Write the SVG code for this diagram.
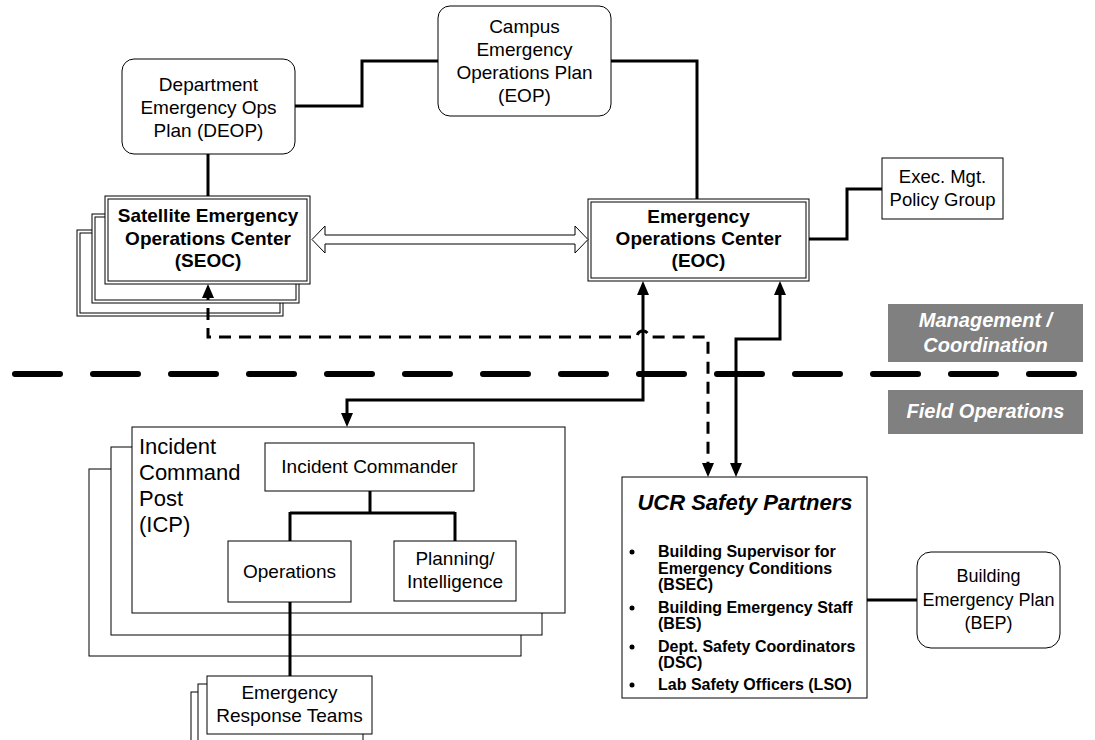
<svg xmlns="http://www.w3.org/2000/svg" width="1095" height="740" viewBox="0 0 1095 740">
<defs>
<marker id="ah" viewBox="0 0 14 12" markerWidth="14" markerHeight="12" refX="10" refY="6" orient="auto-start-reverse" markerUnits="userSpaceOnUse"><path d="M0,0 L14,6 L0,12 z" fill="#000"/></marker>
</defs>
<style>
.box{fill:#fff;stroke:#000;stroke-width:1}
.t{font-family:"Liberation Sans",Arial,sans-serif;font-size:19px;fill:#000;text-anchor:middle}
.b{font-weight:bold}
.conn{fill:none;stroke:#000;stroke-width:3}
.dash{stroke-dasharray:12 8}
.lbl{fill:#808080}
.lt{font-family:"Liberation Sans",Arial,sans-serif;font-size:20px;font-weight:bold;font-style:italic;fill:#fff;text-anchor:middle}
.ul{font-family:"Liberation Sans",Arial,sans-serif;font-size:16px;font-weight:bold;fill:#000}
</style>
<rect width="1095" height="740" fill="#fff"/>

<line id="divider" x1="15" y1="374" x2="1074" y2="374" stroke="#000" stroke-width="6" stroke-dasharray="45 33" stroke-linecap="round"/>

<g id="label-mgmt"><rect class="lbl" x="888" y="304" width="195" height="58"/><text class="lt" x="985.5" y="327">Management /</text><text class="lt" x="985.5" y="352">Coordination</text></g>
<g id="label-field"><rect class="lbl" x="888" y="390" width="195" height="44"/><text class="lt" x="985.5" y="418">Field Operations</text></g>

<g id="deop"><rect class="box" x="122" y="59" width="173" height="95" rx="12"/><text class="t" x="208.5" y="91">Department</text><text class="t" x="208.5" y="114">Emergency Ops</text><text class="t" x="208.5" y="137">Plan (DEOP)</text></g>

<g id="eop"><rect class="box" x="438" y="6" width="173" height="110" rx="12"/><text class="t" x="524.5" y="33">Campus</text><text class="t" x="524.5" y="56">Emergency</text><text class="t" x="524.5" y="79">Operations Plan</text><text class="t" x="524.5" y="102">(EOP)</text></g>

<g id="seoc">
<rect class="box" x="77" y="230" width="206" height="86"/><rect class="box" x="80" y="233" width="200" height="80"/>
<rect class="box" x="92" y="214" width="207" height="89"/><rect class="box" x="95" y="217" width="201" height="83"/>
<rect class="box" x="105" y="196" width="205" height="88"/><rect class="box" x="108" y="199" width="199" height="82"/>
<text class="t b" x="208" y="222">Satellite Emergency</text><text class="t b" x="208" y="245">Operations Center</text><text class="t b" x="208" y="267">(SEOC)</text>
</g>

<g id="eoc"><rect class="box" x="588" y="199" width="221" height="82"/><rect class="box" x="591" y="202" width="215" height="76"/><text class="t b" x="698.5" y="223">Emergency</text><text class="t b" x="698.5" y="245">Operations Center</text><text class="t b" x="698.5" y="267">(EOC)</text></g>

<g id="exec"><rect class="box" x="882" y="158" width="121" height="61"/><text class="t" x="942.5" y="183" style="font-size:18.5px">Exec. Mgt.</text><text class="t" x="942.5" y="206" style="font-size:18.5px">Policy Group</text></g>

<g id="icp">
<rect class="box" x="89" y="469" width="432" height="187"/>
<rect class="box" x="111" y="447" width="431" height="188"/>
<rect class="box" x="132" y="427" width="433" height="186"/>
<text class="t" x="139" y="454" style="font-size:22px;text-anchor:start">Incident</text>
<text class="t" x="139" y="480" style="font-size:22px;text-anchor:start">Command</text>
<text class="t" x="139" y="506" style="font-size:22px;text-anchor:start">Post</text>
<text class="t" x="139" y="532" style="font-size:22px;text-anchor:start">(ICP)</text>
</g>
<g id="incident-commander"><rect class="box" x="265" y="443" width="209" height="48"/><text class="t" x="369.5" y="473">Incident Commander</text></g>
<g id="operations"><rect class="box" x="228" y="541" width="123" height="61"/><text class="t" x="289.5" y="578">Operations</text></g>
<g id="planning"><rect class="box" x="394" y="541" width="122" height="60"/><text class="t" x="455" y="565">Planning/</text><text class="t" x="455" y="588">Intelligence</text></g>

<g id="ert">
<rect class="box" x="191" y="692" width="165" height="58"/>
<rect class="box" x="198" y="684" width="165" height="58"/>
<rect class="box" x="207" y="676" width="165" height="58"/>
<text class="t" x="289.5" y="699">Emergency</text><text class="t" x="289.5" y="722">Response Teams</text>
</g>

<g id="ucr">
<rect class="box" x="622" y="477" width="245" height="221"/>
<text class="t b" x="745" y="510" style="font-size:22px;font-style:italic">UCR Safety Partners</text>
<circle cx="632" cy="552" r="2.5"/><circle cx="632" cy="608" r="2.5"/><circle cx="632" cy="647" r="2.5"/><circle cx="632" cy="685" r="2.5"/>
<text class="ul" x="658" y="557">Building Supervisor for</text>
<text class="ul" x="658" y="574">Emergency Conditions</text>
<text class="ul" x="658" y="590">(BSEC)</text>
<text class="ul" x="658" y="613">Building Emergency Staff</text>
<text class="ul" x="658" y="629">(BES)</text>
<text class="ul" x="658" y="652">Dept. Safety Coordinators</text>
<text class="ul" x="658" y="668">(DSC)</text>
<text class="ul" x="658" y="690">Lab Safety Officers (LSO)</text>
</g>

<g id="bep"><rect class="box" x="917" y="552" width="143" height="96" rx="14"/><text class="t" x="988.5" y="582" style="font-size:18px">Building</text><text class="t" x="988.5" y="606" style="font-size:18px">Emergency Plan</text><text class="t" x="988.5" y="629" style="font-size:18px">(BEP)</text></g>

<g id="connectors">
<path class="conn" d="M295,106 L362,106 L362,61 L438,61"/>
<path class="conn" d="M611,61 L697,61 L697,199"/>
<path class="conn" d="M208,154 L208,196"/>
<path class="conn" d="M809,239 L847,239 L847,189 L882,189"/>
<path d="M312,239.5 L325,226 L325,235 L575,235 L575,226 L588,239.5 L575,253 L575,244 L325,244 L325,253 Z" fill="#fff" stroke="#000" stroke-width="1"/>
<path class="conn dash" d="M208,288 L208,337 L637,337 A6,6 0 0 1 649,337 L708,337 L708,473" marker-start="url(#ah)" marker-end="url(#ah)"/>
<path class="conn" d="M643,285 L643,400 L347,400 L347,423" marker-start="url(#ah)" marker-end="url(#ah)"/>
<path class="conn" d="M780,285 L780,339 L736,339 L736,473" marker-start="url(#ah)" marker-end="url(#ah)"/>
<path class="conn" d="M370,491 L370,513 M290,513 L455,513 M290,512 L290,541 M455,512 L455,541"/>
<path class="conn" d="M290,602 L290,676"/>
<path class="conn" d="M867,600 L917,600"/>
</g>
</svg>
